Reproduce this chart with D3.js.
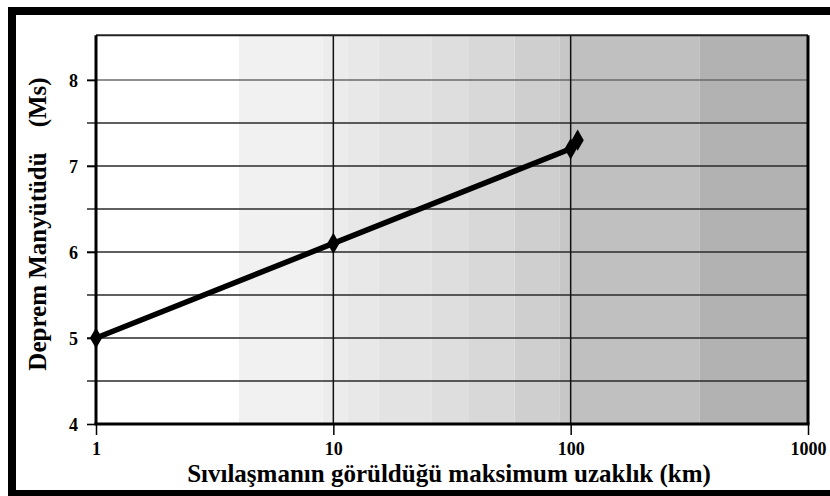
<!DOCTYPE html>
<meta charset="utf-8">
<head>
	<title>Deprem büyüklüğü - sıvılaşma uzaklığı</title>
</head>

<style>
body { margin: 0; background: #fff; }
svg { display: block; }
text {
	font-family: "Liberation Serif", "Times New Roman", serif;
	font-weight: bold;
	fill: #000;
}
.tick text { font-size: 18px; font-weight: bold; }
</style>

<body>
<svg id="chart" width="830" height="496"></svg>

<script src="https://cdnjs.cloudflare.com/ajax/libs/d3/7.8.5/d3.min.js"></script>
<script>

// veri
var distances = [1, 10, 100, 107];        // km
var magnitudes = [5.0, 6.1, 7.2, 7.3];   // Ms
var xTicks = [1, 10, 100, 1000];
var yTicks = [4, 5, 6, 7, 8];
var yGrid = [4.5, 5, 5.5, 6, 6.5, 7, 7.5, 8];
var xGrid = [10, 100];

// arka plan bantları (km sınırları ve gri tonları)
var bandEdges = [1, 4, 9, 11.5, 15.5, 26, 37, 58, 90, 100, 350, 1000];
var bandColors = ['#ffffff', '#f1f1f1', '#ececec', '#e8e8e8', '#e3e3e3', '#dedede',
	'#d8d8d8', '#cfcfcf', '#c7c7c7', '#c0c0c0', '#b2b2b2'];

var svg = d3.select('#chart');

var x = d3.scaleLog().domain([1, 1000]).range([96, 808]);
var y = d3.scaleLinear().domain([4, 8]).range([424, 80]);
var yTop = 8.52;

// dış çerçeve (sağ kenar yok)
svg.append('rect').attr('x', 8).attr('y', 7).attr('width', 822).attr('height', 8).attr('fill', '#000');
svg.append('rect').attr('x', 8).attr('y', 7).attr('width', 8).attr('height', 489).attr('fill', '#000');
svg.append('rect').attr('x', 8).attr('y', 490).attr('width', 822).attr('height', 6).attr('fill', '#000');

// bantlar
svg.append('g')
	.selectAll('rect')
	.data(bandColors)
	.enter()
	.append('rect')
	.attr('x', function(d, i) { return x(bandEdges[i]); })
	.attr('width', function(d, i) { return x(bandEdges[i + 1]) - x(bandEdges[i]); })
	.attr('y', y(yTop))
	.attr('height', y(4) - y(yTop))
	.attr('fill', function(d) { return d; });

// yatay ızgara (eksenin soluna taşan)
svg.append('g')
	.selectAll('line')
	.data(yGrid)
	.enter()
	.append('line')
	.attr('x1', 87)
	.attr('x2', x(1000))
	.attr('y1', function(d) { return y(d); })
	.attr('y2', function(d) { return y(d); })
	.attr('stroke', function(d) { return d === 8 ? '#6a6a6a' : '#2a2a2a'; })
	.attr('stroke-width', 1.6);

// dikey ızgara
svg.append('g')
	.selectAll('line')
	.data(xGrid)
	.enter()
	.append('line')
	.attr('x1', function(d) { return x(d); })
	.attr('x2', function(d) { return x(d); })
	.attr('y1', y(yTop))
	.attr('y2', y(4))
	.attr('stroke', '#111')
	.attr('stroke-width', 1.5);

// eksenler
var xAxis = svg.append('g')
	.attr('transform', 'translate(0,' + y(4) + ')')
	.call(d3.axisBottom(x).tickValues(xTicks).tickFormat(d3.format('d')).tickSize(11).tickPadding(7));
xAxis.select('.domain').remove();
xAxis.selectAll('.tick line').attr('stroke', '#000').attr('stroke-width', 1.5);

var yAxis = svg.append('g')
	.attr('transform', 'translate(' + x(1) + ',0)')
	.call(d3.axisLeft(y).tickValues(yTicks).tickFormat(d3.format('d')).tickSize(9).tickPadding(9));
yAxis.select('.domain').remove();
yAxis.selectAll('.tick line').attr('stroke', '#000').attr('stroke-width', 1.6);
yAxis.selectAll('.tick text').attr('dy', '0.35em');

// çizim alanı çerçevesi
svg.append('line')
	.attr('x1', x(1)).attr('x2', x(1000))
	.attr('y1', y(yTop)).attr('y2', y(yTop))
	.attr('stroke', '#222').attr('stroke-width', 2);
svg.append('line')
	.attr('x1', x(1) - 1.5).attr('x2', x(1000) + 1.5)
	.attr('y1', y(4)).attr('y2', y(4))
	.attr('stroke', '#000').attr('stroke-width', 3);
svg.append('line')
	.attr('x1', x(1)).attr('x2', x(1))
	.attr('y1', y(yTop)).attr('y2', y(4))
	.attr('stroke', '#000').attr('stroke-width', 3);
svg.append('line')
	.attr('x1', x(1000)).attr('x2', x(1000))
	.attr('y1', y(yTop)).attr('y2', y(4))
	.attr('stroke', '#000').attr('stroke-width', 3);

// veri çizgisi
var points = distances.map(function(d, i) { return [d, magnitudes[i]]; });
var line = d3.line()
	.x(function(d) { return x(d[0]); })
	.y(function(d) { return y(d[1]); });

svg.append('path')
	.datum(points)
	.attr('d', line)
	.attr('fill', 'none')
	.attr('stroke', '#000')
	.attr('stroke-width', 5.5);

svg.append('g')
	.selectAll('path')
	.data(points)
	.enter()
	.append('path')
	.attr('d', d3.symbol().type(d3.symbolDiamond).size(130))
	.attr('transform', function(d) { return 'translate(' + x(d[0]) + ',' + y(d[1]) + ')'; })
	.attr('fill', '#000');

// eksen başlıkları
svg.append('text')
	.attr('x', 449)
	.attr('y', 481.5)
	.attr('text-anchor', 'middle')
	.style('font-size', '25px')
	.text('Sıvılaşmanın görüldüğü maksimum uzaklık (km)');

svg.append('text')
	.attr('transform', 'translate(46,224) rotate(-90)')
	.attr('text-anchor', 'middle')
	.style('font-size', '25px')
	.text('Deprem Manyütüdü\u00a0\u00a0\u00a0\u00a0(Ms)');

</script>

</body>
</html>
